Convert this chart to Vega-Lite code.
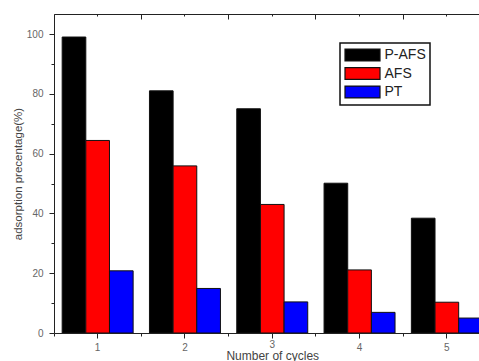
{
  "$schema": "https://vega.github.io/schema/vega-lite/v6.json",
  "autosize": {"type": "none"},
  "width": 425,
  "height": 319,
  "padding": {"left": 54, "top": 14, "right": 0, "bottom": 28},
  "background": "white",
  "config": {
    "view": {"stroke": null},
    "font": "Liberation Sans",
    "legend": {"strokeColor": "#111", "strokeWidth": 1.5},
    "axis": {
      "labelFont": "Liberation Sans",
      "titleFont": "Liberation Sans",
      "labelColor": "#666",
      "titleColor": "#444",
      "titleFontWeight": "normal",
      "domainColor": "#222",
      "tickColor": "#222",
      "grid": false
    }
  },
  "data": {
    "values": [
      {"cycle": "1", "series": "P-AFS", "value": 99},
      {"cycle": "1", "series": "AFS", "value": 64.4},
      {"cycle": "1", "series": "PT", "value": 20.8},
      {"cycle": "2", "series": "P-AFS", "value": 81},
      {"cycle": "2", "series": "AFS", "value": 55.9},
      {"cycle": "2", "series": "PT", "value": 14.9},
      {"cycle": "3", "series": "P-AFS", "value": 75},
      {"cycle": "3", "series": "AFS", "value": 43},
      {"cycle": "3", "series": "PT", "value": 10.4},
      {"cycle": "4", "series": "P-AFS", "value": 50.1},
      {"cycle": "4", "series": "AFS", "value": 21.1},
      {"cycle": "4", "series": "PT", "value": 6.9},
      {"cycle": "5", "series": "P-AFS", "value": 38.4},
      {"cycle": "5", "series": "AFS", "value": 10.3},
      {"cycle": "5", "series": "PT", "value": 5.0}
    ]
  },
  "layer": [
    {
      "mark": {"type": "bar", "stroke": "#111", "strokeWidth": 1, "clip": true},
      "encoding": {
        "x": {
          "field": "cycle", "type": "ordinal",
          "scale": {"paddingInner": 0, "paddingOuter": 0, "range": [0, 436.5]},
          "axis": {"orient": "bottom", "title": "Number of cycles", "labelAngle": 0, "tickSize": 5,
                   "labelFontSize": 10, "labelPadding": {"condition": {"test": "datum.value == '3'", "value": 1}, "value": 4},
                   "titleFontSize": 12, "titlePadding": -2}
        },
        "xOffset": {
          "field": "series", "type": "nominal",
          "sort": ["P-AFS", "AFS", "PT"],
          "scale": {"paddingInner": 0, "paddingOuter": 0.345}
        },
        "y": {
          "field": "value", "type": "quantitative",
          "scale": {"domain": [0, 106.7], "nice": false, "zero": true},
          "axis": {"orient": "left", "values": [0, 20, 40, 60, 80, 100], "tickSize": 5,
                   "labelFontSize": 10, "labelPadding": 6, "title": "adsorption precentage(%)",
                   "titleFontSize": 11.5, "titlePadding": 3}
        },
        "color": {
          "field": "series", "type": "nominal",
          "scale": {"domain": ["P-AFS", "AFS", "PT"], "range": ["#000000", "#ff0000", "#0000ff"]},
          "legend": {
            "title": null,
            "orient": "none",
            "legendX": 286,
            "legendY": 29,
            "strokeColor": "#111",
            "fillColor": "white",
            "padding": 4,
            "rowPadding": 0.5,
            "symbolType": "M-2.5,-0.85H2.5V0.85H-2.5Z",
            "symbolSize": 196,
            "symbolOffset": 10.5,
            "symbolStrokeColor": "#111",
            "symbolStrokeWidth": 1.2,
            "symbolOpacity": 1,
            "labelFont": "Liberation Sans",
            "labelFontSize": 14,
            "labelColor": "#222",
            "labelOffset": 14,
            "encode": {"legend": {"update": {"stroke": {"value": "#111"}, "strokeWidth": {"value": 1.5}}}}
          }
        }
      }
    },
    {
      "mark": {"type": "bar", "opacity": 0},
      "encoding": {
        "x": {
          "field": "cycle", "type": "ordinal",
          "scale": {"paddingInner": 0, "paddingOuter": 0, "range": [0, 436.5]},
          "axis": {"orient": "bottom", "bandPosition": 0, "tickSize": 3, "labels": false, "domain": false, "title": null}
        },
        "y": {
          "field": "value", "type": "quantitative",
          "scale": {"domain": [0, 106.7], "nice": false, "zero": true},
          "axis": {"orient": "left", "values": [10, 30, 50, 70, 90], "tickSize": 3, "labels": false, "domain": false, "title": null}
        }
      }
    },
    {
      "mark": {"type": "bar", "opacity": 0},
      "encoding": {
        "x": {
          "field": "cycle", "type": "ordinal",
          "scale": {"paddingInner": 0, "paddingOuter": 0, "range": [0, 436.5]},
          "axis": {"orient": "top", "bandPosition": 0, "tickSize": -5, "labels": false, "domain": true, "title": null}
        }
      }
    },
    {
      "mark": {"type": "bar", "opacity": 0},
      "encoding": {
        "x": {
          "field": "cycle", "type": "ordinal",
          "scale": {"paddingInner": 0, "paddingOuter": 0, "range": [0, 436.5]},
          "axis": {"orient": "top", "tickSize": -2, "labels": false, "domain": false, "title": null}
        }
      }
    }
  ],
  "resolve": {"axis": {"x": "independent", "y": "independent"}}
}
